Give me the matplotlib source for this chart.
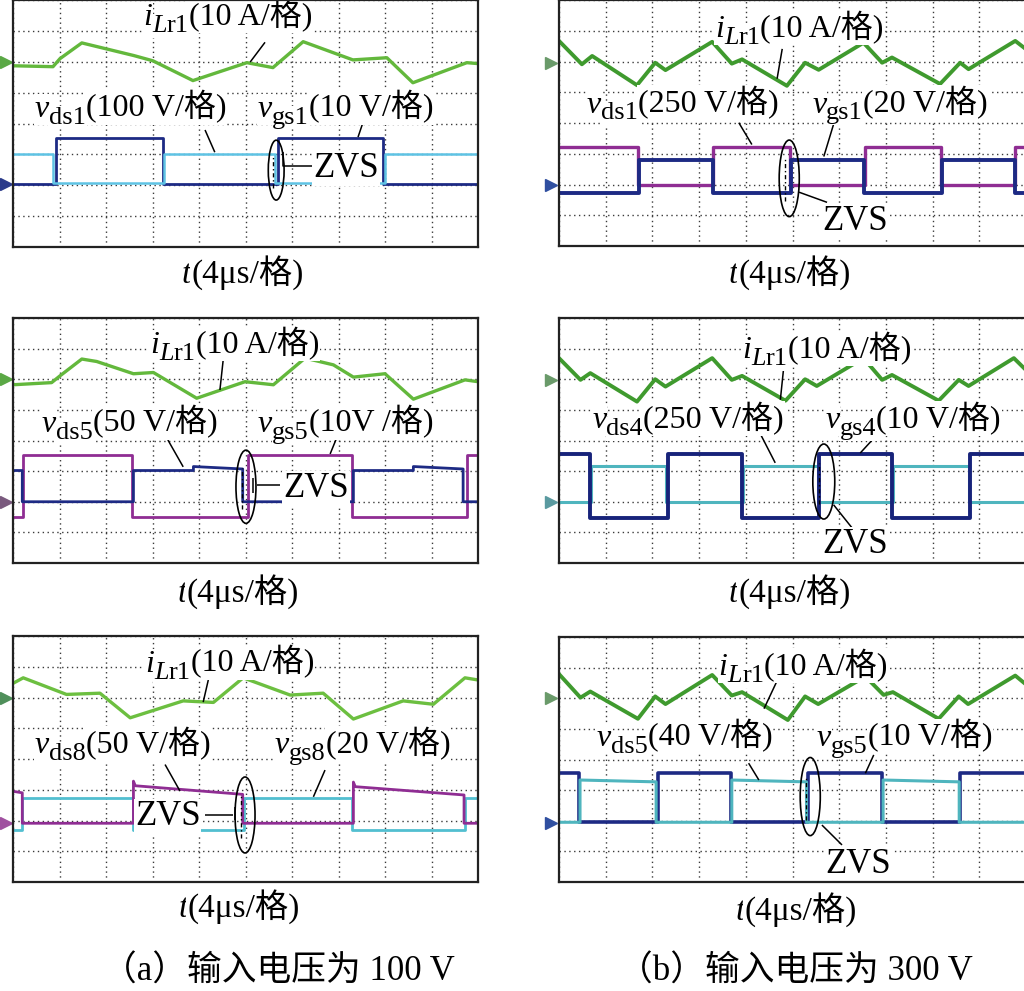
import numpy as np
import matplotlib
matplotlib.use('Agg')
import matplotlib.pyplot as plt
from matplotlib.patches import Ellipse

plt.rcParams['font.family'] = ['Liberation Serif', 'Noto Sans CJK SC']

# all waveforms in scope divisions: x 0..10, y 0..8
# (a) 100 V input
a1_il_t = [0, 0.86, 1.01, 1.48, 2.60, 3.01, 3.87, 5.03, 5.59, 6.24, 7.31, 8.04, 8.60, 9.76, 10]
a1_il_v = [5.87, 5.84, 6.10, 6.61, 6.20, 6.03, 5.39, 5.97, 5.81, 6.65, 6.06, 6.13, 5.32, 5.97, 5.94]
a1_vgs_edges = [0.93, 3.23, 5.70, 7.96]
a1_vds_edges = [0.86, 3.25, 5.63, 8.00]

a2_il_t = [0, 0.83, 1.01, 1.48, 1.80, 2.59, 3.02, 3.95, 4.99, 5.60, 6.28, 6.89, 7.32, 8.00, 8.61, 9.72, 10]
a2_il_v = [5.82, 5.89, 6.11, 6.66, 6.58, 6.18, 6.22, 5.38, 5.92, 5.82, 6.69, 6.47, 6.07, 6.18, 5.35, 5.98, 5.92]
a2_vgs_edges = [0.22, 2.55, 5.06, 7.30, 9.76]
a2_vds_t = [0, 0.20, 0.20, 2.59, 2.59, 3.88, 3.88, 4.94, 4.94, 7.32, 7.32, 8.61, 8.61, 9.68, 9.68, 10]
a2_vds_v = [3.02, 3.02, 2.00, 2.00, 3.02, 3.02, 3.15, 3.07, 2.00, 2.00, 3.02, 3.02, 3.15, 3.07, 2.00, 2.00]

a3_il_t = [0, 0.22, 1.15, 1.87, 2.52, 3.66, 4.31, 4.95, 5.96, 6.67, 7.32, 8.39, 9.04, 9.72, 10]
a3_il_v = [6.46, 6.64, 6.10, 6.14, 5.34, 5.89, 5.84, 6.64, 6.08, 6.14, 5.30, 5.89, 5.78, 6.64, 6.57]
a3_vds_t = [0, 0.20, 0.20, 2.59, 2.59, 2.63, 4.94, 4.94, 7.32, 7.32, 7.36, 9.70, 9.70, 10]
a3_vds_v = [2.95, 2.90, 1.91, 1.91, 3.28, 3.13, 2.85, 1.91, 1.91, 3.25, 3.10, 2.83, 1.91, 1.91]
a3_vgs_edges = [0.20, 2.57, 4.96, 7.30, 9.72]

# (b) 300 V input
b1_il_t = [0.0, 0.49, 0.71, 1.67, 2.06, 2.28, 3.28, 3.70, 3.92, 4.88, 5.27, 5.56, 6.52, 6.92, 7.13, 8.16, 8.59, 8.77, 9.77, 10.0]
b1_il_v = [6.67, 5.91, 6.18, 5.23, 5.96, 5.72, 6.64, 5.93, 6.07, 5.21, 5.96, 5.73, 6.61, 5.96, 6.13, 5.27, 5.96, 5.75, 6.67, 6.40]
b1_vds_edges = [1.69, 3.30, 4.95, 6.55, 8.19, 9.77]
b1_vgs_edges = [1.71, 3.29, 4.97, 6.54, 8.21, 9.76]

b2_il_t = [0.0, 0.46, 0.67, 1.67, 2.06, 2.28, 3.28, 3.70, 3.92, 4.85, 5.27, 5.52, 6.52, 6.92, 7.13, 8.13, 8.56, 8.77, 9.74, 10.0]
b2_il_v = [6.69, 5.98, 6.20, 5.27, 6.00, 5.76, 6.69, 5.98, 6.11, 5.30, 6.00, 5.78, 6.69, 5.98, 6.14, 5.30, 5.98, 5.78, 6.69, 6.30]
b2_vgs_edges = [0.67, 2.33, 3.92, 5.56, 7.13, 8.81]
b2_vds_edges = [0.69, 2.30, 3.94, 5.54, 7.15, 8.79]

b3_il_t = [0.0, 0.46, 0.67, 1.69, 2.06, 2.28, 3.28, 3.70, 3.92, 4.90, 5.27, 5.55, 6.56, 6.95, 7.15, 8.13, 8.56, 8.76, 9.77, 10.0]
b3_il_v = [6.79, 6.02, 6.22, 5.33, 6.06, 5.81, 6.76, 6.09, 6.20, 5.29, 6.06, 5.81, 6.71, 6.11, 6.20, 5.33, 6.06, 5.81, 6.74, 6.45]
b3_vgs_edges = [0.42, 2.11, 3.68, 5.33, 6.92, 8.59]
b3_vds_edges = [0.45, 2.08, 3.70, 5.30, 6.94, 8.57]

GREEN_A = '#63b83c'
GREEN_B = '#3f9a2e'
NAVY = '#1d2a84'
CYAN = '#5ec3e4'
TEAL = '#4fb5be'
PURPLE = '#8f2d93'
W, H = 1024, 991
BOX = dict(boxstyle='square,pad=0.03', fc='white', ec='none')


def square(edges, low, high, first_high, t0=0.0, t1=10.0):
    bounds = [t0] + list(edges) + [t1]
    t, v = [], []
    for i in range(len(bounds) - 1):
        on = first_high if i % 2 == 0 else not first_high
        lv = high if on else low
        if np.ndim(lv) == 0:
            lv = (lv, lv)
        t += [bounds[i], bounds[i + 1]]
        v += list(lv)
    return t, v


def make_ax(left, top, right, bottom):
    ax = fig.add_axes([left / W, 1 - bottom / H, (right - left) / W, (bottom - top) / H])
    ax.set_xlim(0, 10)
    ax.set_ylim(0, 8)
    ax.set_xticks(range(11))
    ax.set_yticks(range(9))
    ax.tick_params(length=0, labelbottom=False, labelleft=False)
    ax.grid(True, ls=(0, (1, 2.5)), color='#3a3a3a', lw=1.0)
    for s in ax.spines.values():
        s.set_linewidth(1.6)
        s.set_color('#222222')
        s.set_zorder(9)
    return ax


def label(ax, x, y, sym, sub, rest, sub_it='', size=23, sub_size=19):
    # symbol in italic, subscript lowered, then the "(scale/格)" part
    prev = ax.text(x, y, sym, fontsize=size, fontstyle='italic', ha='left',
                   va='baseline', bbox=BOX, zorder=7)
    pieces = [(sub_it, sub_size, 'italic', -5), (sub, sub_size, 'normal', -5),
              (rest, size, 'normal', 0)]
    for s, fs, st, dy in pieces:
        if not s:
            continue
        prev = ax.annotate(s, xy=(1, y), xycoords=(prev, 'data'), xytext=(0, dy),
                           textcoords='offset points', fontsize=fs, fontstyle=st,
                           ha='left', va='baseline', bbox=BOX, zorder=7)


def zvs(ax, x, y, size=25):
    ax.text(x, y, 'ZVS', fontsize=size, ha='left', va='baseline', zorder=7, bbox=BOX)


def lead(ax, xs, ys):
    ax.plot(xs, ys, color='black', lw=1.1, zorder=6, solid_capstyle='butt')


def ring(ax, cx, cy, w, h):
    ax.add_patch(Ellipse((cx, cy), w, h, fill=False, ec='black', lw=1.2, zorder=6))
    ax.plot([cx - 0.2 * w] * 2, [cy - 0.3 * h, cy + 0.25 * h], color='black',
            lw=1.0, ls=(0, (3, 2, 1, 2)), zorder=6)


def marker(ax, x, y, c):
    ax.plot([x], [y], marker='>', ms=9, color=c, clip_on=False, zorder=8)


fig = plt.figure(figsize=(W / 100, H / 100), dpi=100)

# ---- (a) row 1
ax = make_ax(13, 0, 478, 247)
t, v = square(a1_vgs_edges, 2.03, 3.54, False)
ax.plot(t, v, color=NAVY, lw=2.0, zorder=3)
t, v = square(a1_vds_edges, 2.07, 3.00, True)
ax.plot(t, v, color=CYAN, lw=1.8, zorder=3)
ax.plot(a1_il_t, a1_il_v, color=GREEN_A, lw=2.4, zorder=3)
marker(ax, -0.14, 6.0, '#5aa845')
marker(ax, -0.14, 2.03, '#2a3a8a')
label(ax, 2.80, 7.18, 'i', 'r1', '(10 A/格)', sub_it='L')
label(ax, 0.47, 4.22, 'v', 'ds1', '(100 V/格)')
label(ax, 5.27, 4.22, 'v', 'gs1', '(10 V/格)')
lead(ax, [5.42, 5.10], [6.63, 5.99])
lead(ax, [4.13, 4.34], [3.79, 3.07])
lead(ax, [7.53, 7.42], [4.05, 3.56])
ring(ax, 5.66, 2.49, 0.34, 1.94)
lead(ax, [5.81, 5.81, 6.43], [3.07, 2.62, 2.62])
zvs(ax, 6.45, 2.28)
label(ax, 3.63, -1.17, 't', '', '(4μs/格)', size=24)

# ---- (a) row 2
ax = make_ax(13, 318, 478, 563)
t, v = square(a2_vgs_edges, 1.51, 3.53, False)
ax.plot(t, v, color=PURPLE, lw=2.0, zorder=3)
ax.plot(a2_vds_t, a2_vds_v, color=NAVY, lw=2.0, zorder=3)
ax.plot(a2_il_t, a2_il_v, color=GREEN_A, lw=2.4, zorder=3)
marker(ax, -0.14, 6.01, '#5aa845')
marker(ax, -0.14, 2.0, '#7a5a7e')
label(ax, 2.95, 6.86, 'i', 'r1', '(10 A/格)', sub_it='L')
label(ax, 0.62, 4.29, 'v', 'ds5', '(50 V/格)')
label(ax, 5.27, 4.29, 'v', 'gs5', '(10V /格)')
lead(ax, [4.52, 4.45], [6.63, 5.65])
lead(ax, [3.33, 3.66], [4.02, 3.14])
lead(ax, [6.97, 6.82], [4.12, 3.56])
ring(ax, 5.01, 2.49, 0.43, 2.39)
lead(ax, [5.16, 5.16], [2.78, 2.30])
lead(ax, [5.25, 5.74], [2.55, 2.55])
zvs(ax, 5.81, 2.17)
label(ax, 3.53, -1.26, 't', '', '(4μs/格)', size=24)

# ---- (a) row 3
ax = make_ax(13, 636, 478, 882)
t, v = square(a3_vgs_edges, 1.69, 2.74, False)
ax.plot(t, v, color='#52bfd0', lw=2.0, zorder=3)
ax.plot(a3_vds_t, a3_vds_v, color=PURPLE, lw=2.0, zorder=3)
ax.plot(a3_il_t, a3_il_v, color='#6cbf40', lw=2.4, zorder=3)
marker(ax, -0.14, 5.97, '#4f8f5a')
marker(ax, -0.14, 1.91, '#a050a0')
label(ax, 2.84, 6.84, 'i', 'r1', '(10 A/格)', sub_it='L')
label(ax, 0.47, 4.19, 'v', 'ds8', '(50 V/格)')
label(ax, 5.63, 4.19, 'v', 'gs8', '(20 V/格)')
lead(ax, [4.20, 4.09], [6.57, 5.85])
lead(ax, [3.27, 3.59], [3.82, 2.96])
lead(ax, [6.71, 6.46], [3.64, 2.77])
ring(ax, 4.99, 2.18, 0.43, 2.47)
zvs(ax, 2.62, 1.85)
lead(ax, [4.13, 4.73], [2.18, 2.18])
lead(ax, [4.77, 4.77], [2.44, 2.02])
label(ax, 3.55, -1.13, 't', '', '(4μs/格)', size=24)

# ---- (b) row 1
ax = make_ax(559, 0, 1026, 246)
t, v = square(b1_vds_edges, 2.0, 3.21, True, t0=0.05)
ax.plot(t, v, color=PURPLE, lw=2.4, zorder=3)
t, v = square(b1_vgs_edges, 1.71, 2.81, False, t0=0.05)
ax.plot(t, v, color=NAVY, lw=2.8, zorder=3)
ax.plot(b1_il_t, b1_il_v, color=GREEN_B, lw=2.8, zorder=3)
marker(ax, -0.18, 5.96, '#6a9a6a')
marker(ax, -0.18, 1.97, '#2f4fa0')
label(ax, 3.34, 6.80, 'i', 'r1', '(10 A/格)', sub_it='L')
label(ax, 0.60, 4.34, 'v', 'ds1', '(250 V/格)')
label(ax, 5.42, 4.34, 'v', 'gs1', '(20 V/格)')
lead(ax, [4.78, 4.67], [6.41, 5.44])
lead(ax, [3.85, 4.13], [4.01, 3.30])
lead(ax, [5.89, 5.67], [4.01, 2.91])
ring(ax, 4.93, 2.20, 0.43, 2.49)
lead(ax, [5.74, 5.14], [1.42, 1.75])
zvs(ax, 5.63, 0.52)
label(ax, 3.64, -1.20, 't', '', '(4μs/格)', size=24)

# ---- (b) row 2
ax = make_ax(559, 318, 1026, 563)
t, v = square(b2_vds_edges, 2.0, 3.18, False, t0=0.03)
ax.plot(t, v, color=TEAL, lw=2.2, zorder=3)
t, v = square(b2_vgs_edges, 1.46, 3.56, True, t0=0.03)
ax.plot(t, v, color='#17237a', lw=2.8, zorder=3)
ax.plot(b2_il_t, b2_il_v, color=GREEN_B, lw=2.8, zorder=3)
marker(ax, -0.18, 5.98, '#6a9a6a')
marker(ax, -0.18, 2.0, '#5a9aa0')
label(ax, 3.92, 6.69, 'i', 'r1', '(10 A/格)', sub_it='L')
label(ax, 0.71, 4.40, 'v', 'ds4', '(250 V/格)')
label(ax, 5.70, 4.40, 'v', 'gs4', '(10 V/格)')
lead(ax, [4.81, 4.74], [6.36, 5.33])
lead(ax, [4.30, 4.63], [4.25, 3.27])
lead(ax, [6.77, 6.45], [4.12, 3.59])
ring(ax, 5.67, 2.66, 0.47, 2.45)
lead(ax, [6.31, 5.88], [1.08, 1.90])
zvs(ax, 5.63, 0.32)
label(ax, 3.64, -1.26, 't', '', '(4μs/格)', size=24)

# ---- (b) row 3
ax = make_ax(559, 637, 1026, 882)
t, v = square(b3_vgs_edges, 1.97, 3.55, True, t0=0.03)
ax.plot(t, v, color=NAVY, lw=2.6, zorder=3)
t, v = square(b3_vds_edges, 1.95, (3.33, 3.27), False, t0=0.03)
ax.plot(t, v, color=TEAL, lw=2.2, zorder=3)
ax.plot(b3_il_t, b3_il_v, color=GREEN_B, lw=2.8, zorder=3)
marker(ax, -0.18, 6.0, '#6a9a6a')
marker(ax, -0.18, 1.92, '#2f4fa0')
label(ax, 3.42, 6.76, 'i', 'r1', '(10 A/格)', sub_it='L')
label(ax, 0.81, 4.45, 'v', 'ds5', '(40 V/格)')
label(ax, 5.52, 4.45, 'v', 'gs5', '(10 V/格)')
lead(ax, [4.67, 4.39], [6.57, 5.66])
lead(ax, [4.06, 4.28], [3.88, 3.33])
lead(ax, [6.74, 6.56], [4.15, 3.55])
ring(ax, 5.38, 2.79, 0.43, 2.55)
lead(ax, [6.06, 5.63], [1.21, 1.86])
zvs(ax, 5.70, 0.28)
label(ax, 3.77, -1.24, 't', '', '(4μs/格)', size=24)

# captions
fig.text(102 / W, 1 - 981 / H, '（a）输入电压为 100 V', fontsize=25, ha='left', va='baseline')
fig.text(618 / W, 1 - 981 / H, '（b）输入电压为 300 V', fontsize=25, ha='left', va='baseline')

fig.savefig('out.png', dpi=100)
